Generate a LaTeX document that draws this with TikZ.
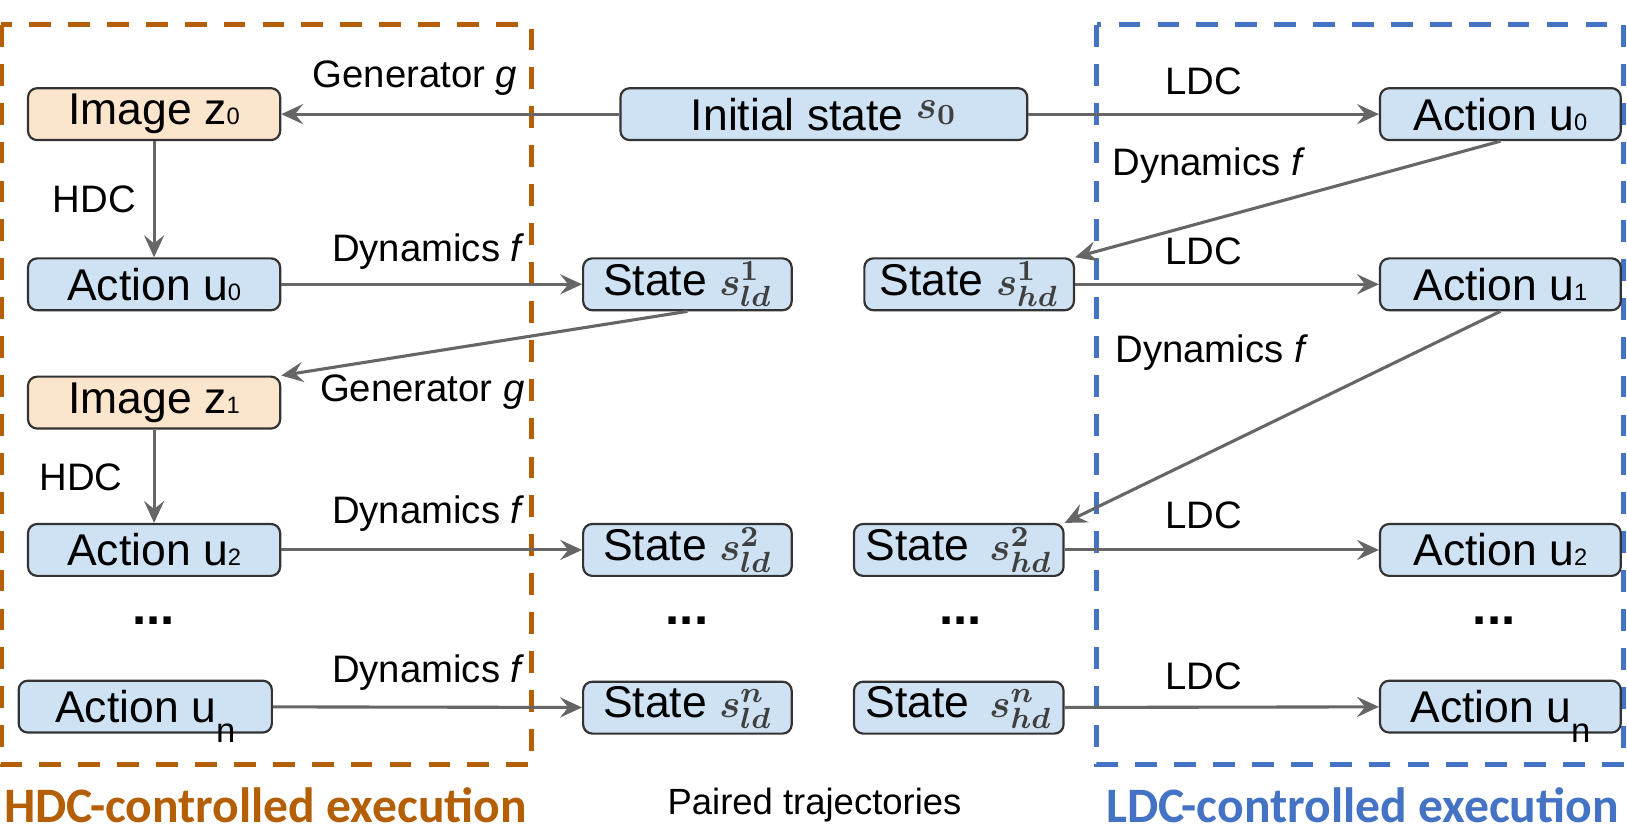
\documentclass[tikz,border=0pt]{standalone}
\usepackage[no-math]{fontspec}
\usepackage{bm}
\setmainfont{Liberation Sans}
\newfontfamily\calibri{Carlito}
\usetikzlibrary{arrows.meta}
\definecolor{StateBlue}{RGB}{207, 226, 243}
\definecolor{ImageOrange}{RGB}{252, 229, 205}
\definecolor{HdcOrange}{RGB}{180, 95, 6}
\definecolor{LdcBlue}{RGB}{68, 114, 196}
\definecolor{WireGray}{RGB}{102, 102, 102}
\newcommand{\usub}[1]{u{\fontsize{6.5}{6.5}\selectfont #1}}
\newcommand{\ulow}{u\raisebox{-0.85ex}[0pt][0pt]{\fontsize{9.5}{9.5}\selectfont n}}
\newcommand{\smath}[1]{{\fontsize{11}{12}\selectfont\color{black!75}$\bm{#1}$}}

\begin{document}
\begin{tikzpicture}[x=0.1mm, y=-0.1mm,
            box/.style={draw=black!80, line width=0.6pt, rounded corners=2.5pt,
                        fill=StateBlue, minimum height=5mm, inner sep=0pt,
                        font=\fontsize{12.2}{14}\selectfont},
            imgbox/.style={box, fill=ImageOrange},
            flow/.style={draw=WireGray, line width=0.85pt,
                         -{Stealth[length=6pt, width=5.5pt, inset=2.2pt]}},
            lbl/.style={font=\fontsize{10.5}{12}\selectfont},
            dots/.style={font=\bfseries\fontsize{14}{14}\selectfont},
            region/.style={line width=1.4pt, dash pattern=on 2.1mm off 1.65mm}
        ]
            \useasboundingbox (0, 0) rectangle (1568, 808);

            % the two execution regions
            \draw[region, HdcOrange] (1, 24) rectangle (512, 737);
            \draw[region, LdcBlue] (1057, 24) rectangle (1565, 737);

            % HDC side
            \node[imgbox, minimum width=24.3mm] (z0) at (148.5, 110) {Image z{\fontsize{6.5}{6.5}\selectfont 0}};
            \node[box, minimum width=24.3mm] (u0L) at (148.5, 274) {Action \usub{0}};
            \node[imgbox, minimum width=24.3mm] (z1) at (148.5, 388) {Image z{\fontsize{6.5}{6.5}\selectfont 1}};
            \node[box, minimum width=24.3mm] (u2L) at (148.5, 530) {Action \usub{2}};
            \node[dots] (dotL) at (148, 598) {...};
            \node[box, minimum width=24.4mm] (unL) at (140, 681) {Action \ulow};

            % paired trajectories
            \node[box, minimum width=39.2mm] (s0) at (794, 110) {Initial state \raisebox{0.5ex}{\smath{s_0}}};
            \node[box, minimum width=20.1mm] (sld1) at (662.5, 274) {State \smath{s^{1}_{ld}}};
            \node[box, minimum width=20.2mm] (shd1) at (934, 274) {State \smath{s^{1}_{hd}}};
            \node[box, minimum width=20.1mm] (sld2) at (662.5, 530) {State \smath{s^{2}_{ld}}};
            \node[box, minimum width=20.2mm] (shd2) at (924, 530) {State \,\smath{s^{2}_{hd}}};
            \node[dots] (dotM) at (662, 598) {...};
            \node[dots] (dotH) at (926, 598) {...};
            \node[box, minimum width=20.1mm] (sldn) at (662.5, 682) {State \smath{s^{n}_{ld}}};
            \node[box, minimum width=20.2mm] (shdn) at (924, 682) {State \,\smath{s^{n}_{hd}}};

            % LDC side
            \node[box, minimum width=23.2mm] (u0R) at (1446, 110) {Action \usub{0}};
            \node[box, minimum width=23.2mm] (u1R) at (1446, 274) {Action \usub{1}};
            \node[box, minimum width=23.2mm] (u2R) at (1446, 530) {Action \usub{2}};
            \node[dots] (dotR) at (1440, 598) {...};
            \node[box, minimum width=23.2mm] (unR) at (1446, 681) {Action \ulow};

            % connectors
            \draw[flow] (s0) -- (z0);
            \draw[flow] (s0) -- (u0R);
            \draw[flow] (z0) -- (u0L);
            \draw[flow] (u0L) -- (sld1);
            \draw[flow] (sld1.south) -- (z1.north east);
            \draw[flow] (z1) -- (u2L);
            \draw[flow] (u2L) -- (sld2);
            \draw[flow] (unL) -- (sldn);
            \draw[flow] (u0R.south) -- (shd1.north east);
            \draw[flow] (shd1) -- (u1R);
            \draw[flow] (u1R.south) -- (shd2.north east);
            \draw[flow] (shd2) -- (u2R);
            \draw[flow] (shdn) -- (unR);

            % connector labels
            \node[lbl] (gen1) at (400, 75) {Generator \textit{g}};
            \node[lbl] (gen2) at (407, 378) {Generator \textit{g}};
            \node[lbl] (hdc1) at (91, 192) {HDC};
            \node[lbl] (hdc2) at (78, 460) {HDC};
            \node[lbl] (dynL1) at (413, 242) {Dynamics \textit{f}};
            \node[lbl] (dynL2) at (413, 495) {Dynamics \textit{f}};
            \node[lbl] (dynL3) at (413, 648) {Dynamics \textit{f}};
            \node[lbl] (dynR1) at (1165, 160) {Dynamics \textit{f}};
            \node[lbl] (dynR2) at (1168, 340) {Dynamics \textit{f}};
            \node[lbl] (ldc1) at (1160, 78) {LDC};
            \node[lbl] (ldc2) at (1160, 242) {LDC};
            \node[lbl] (ldc3) at (1160, 497) {LDC};
            \node[lbl] (ldc4) at (1160, 652) {LDC};

            % region captions
            \node[font=\calibri\bfseries\fontsize{13.6}{16}\selectfont, HdcOrange]
                (hdccap) at (256, 776) {HDC-controlled execution};
            \node[lbl, font=\fontsize{10}{12}\selectfont] (paircap) at (785, 776) {Paired trajectories};
            \node[font=\calibri\bfseries\fontsize{13.6}{16}\selectfont, LdcBlue]
                (ldccap) at (1313, 776) {LDC-controlled execution};
        \end{tikzpicture}
\end{document}
